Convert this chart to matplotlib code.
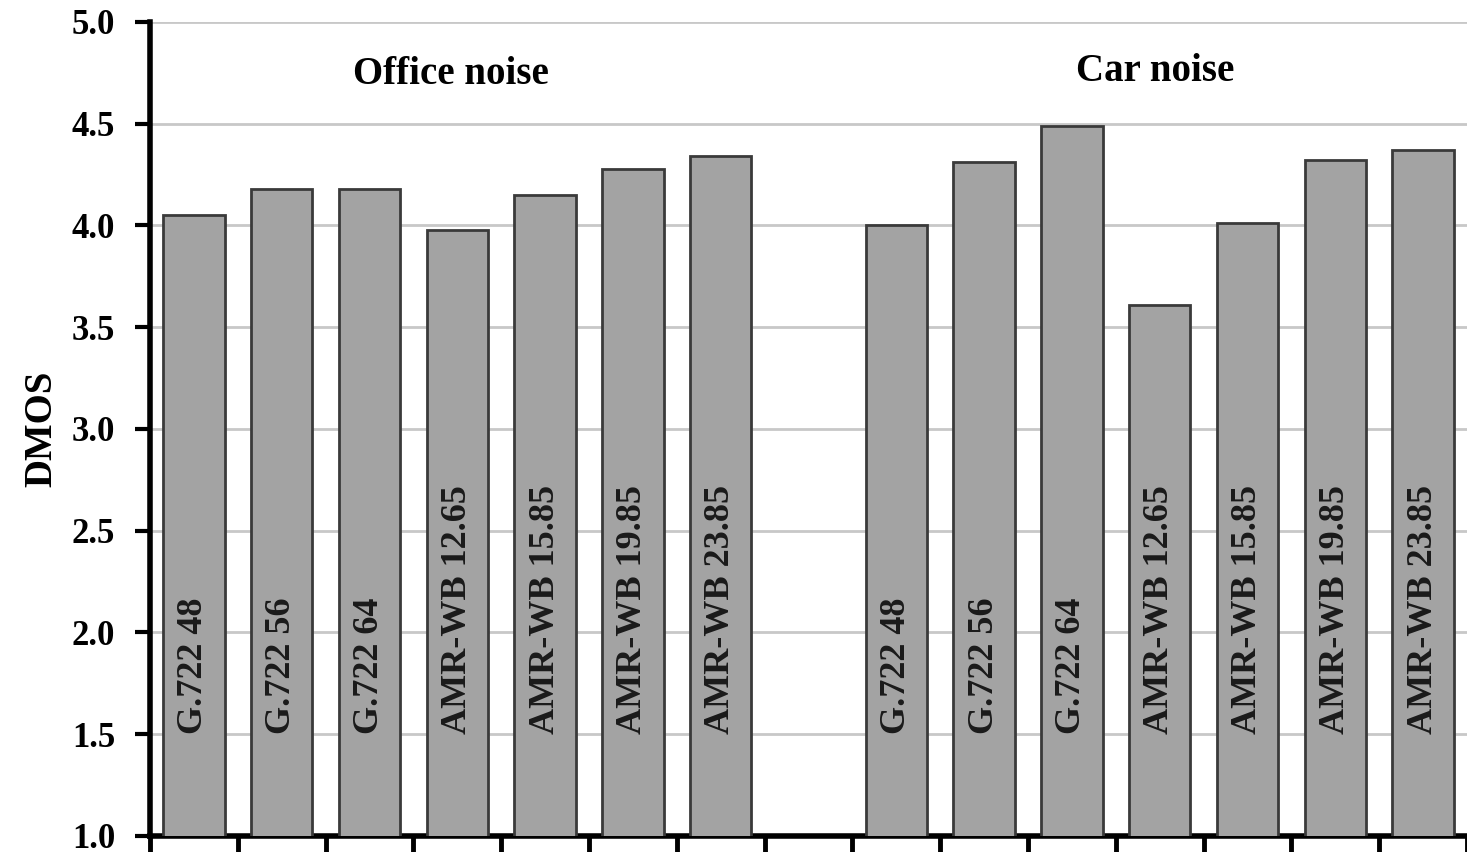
import numpy as np
import matplotlib
matplotlib.use("Agg")
import matplotlib.pyplot as plt

codecs = ["G.722 48", "G.722 56", "G.722 64", "AMR-WB 12.65",
          "AMR-WB 15.85", "AMR-WB 19.85", "AMR-WB 23.85"]
office = [4.05, 4.18, 4.18, 3.98, 4.15, 4.28, 4.34]
car = [4.00, 4.31, 4.49, 3.61, 4.01, 4.32, 4.37]
groups = ["Office noise", "Car noise"]

plt.rcParams["font.family"] = ["Liberation Serif", "DejaVu Serif"]
plt.rcParams["font.weight"] = "bold"

fig = plt.figure(figsize=(14.67, 8.52), dpi=100)
ax = fig.add_axes([0.1022, 0.0188, 0.8978, 0.9554])

xo = np.arange(len(office)) + 0.5
xc = np.arange(len(car)) + 8.5
ax.bar(xo, office, width=0.7, bottom=0, color="#a3a3a3", edgecolor="#3a3a3a", linewidth=2, zorder=3)
ax.bar(xc, car, width=0.7, bottom=0, color="#a3a3a3", edgecolor="#3a3a3a", linewidth=2, zorder=3)

# codec names written upwards inside each bar
for x, lab in zip(np.concatenate([xo, xc]), codecs + codecs):
    ax.text(x, 1.5, lab, rotation=90, ha="center", va="bottom",
            fontsize=26, fontweight="bold", color="#1a1a1a", zorder=4)

ax.text(3.43, 4.74, groups[0], ha="center", va="center", fontsize=28, fontweight="bold")
ax.text(11.45, 4.755, groups[1], ha="center", va="center", fontsize=28, fontweight="bold")

ax.set_xlim(0, 15)
ax.set_ylim(1.0, 5.0)
ax.set_yticks(np.arange(1.0, 5.01, 0.5))
ax.set_yticklabels([f"{v:.1f}" for v in np.arange(1.0, 5.01, 0.5)], fontsize=25, fontweight="bold")
ax.set_xticks([])
ax.set_xticks(np.arange(0, 16, 1), minor=True)
ax.tick_params(axis="x", which="minor", length=12, width=3.5, direction="out")
ax.tick_params(axis="y", length=11, width=3, direction="out", pad=14)
ax.grid(axis="y", color="#c8c8c8", linewidth=2, zorder=0)
ax.set_axisbelow(True)

for s in ["top", "right"]:
    ax.spines[s].set_visible(False)
ax.spines["left"].set_linewidth(4)
ax.spines["bottom"].set_linewidth(4)

ax.set_ylabel("DMOS", fontsize=28, fontweight="bold", labelpad=8)

fig.savefig("out.png", dpi=100)
